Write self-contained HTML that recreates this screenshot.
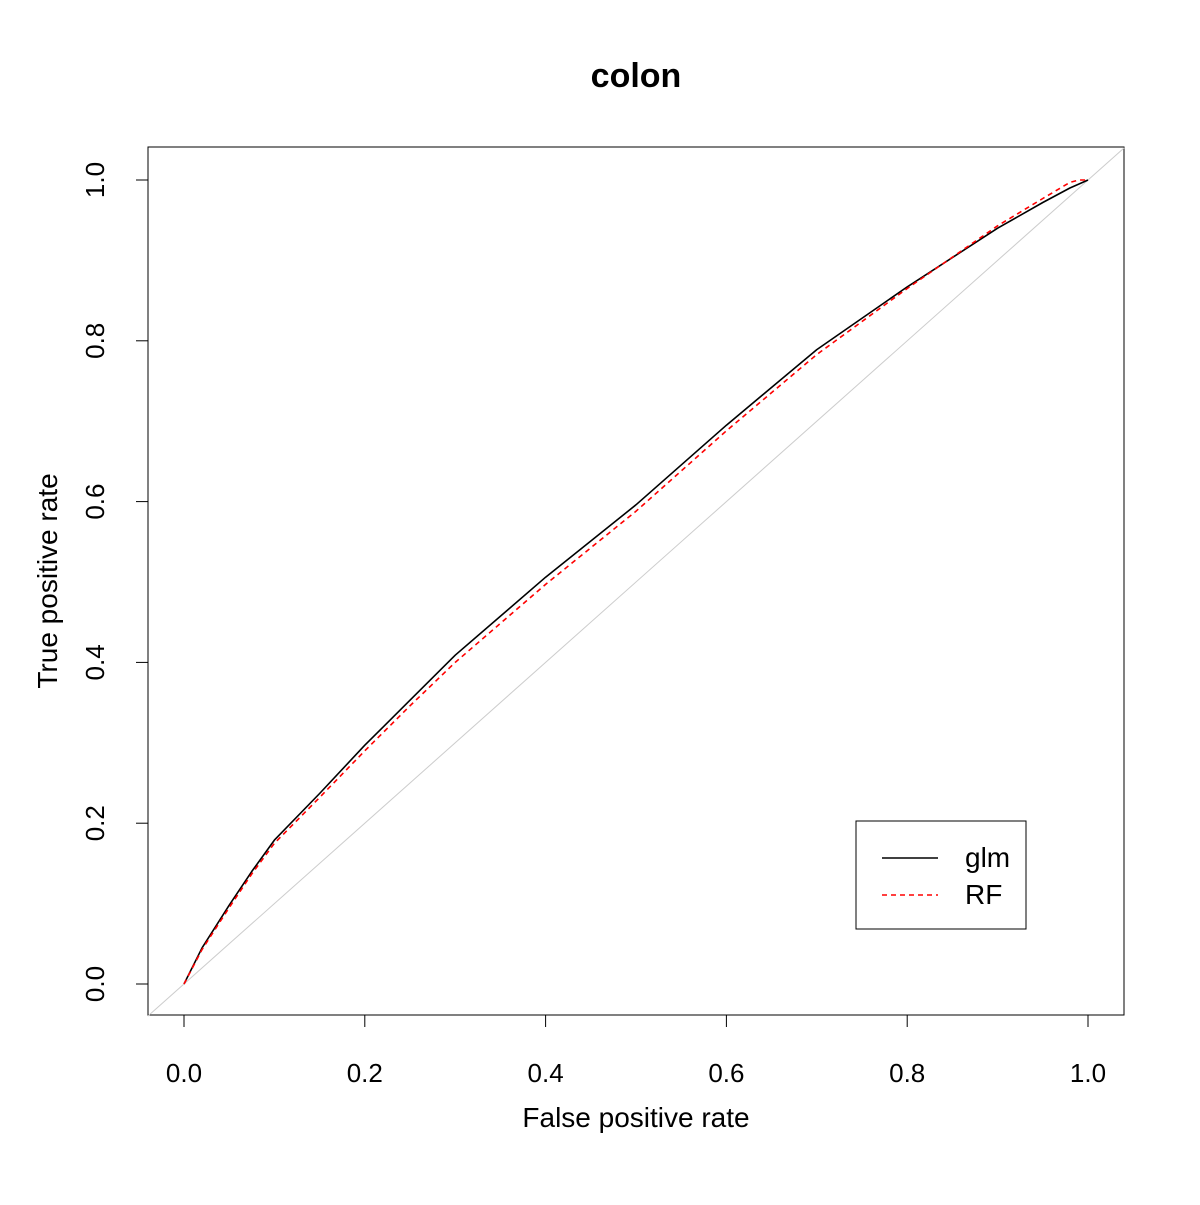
<!DOCTYPE html>
<html><head><meta charset="utf-8"><style>
body{margin:0;background:#fff}
svg text{font-family:"Liberation Sans",sans-serif}
</style></head><body>
<svg id="chart" width="1200" height="1200" viewBox="0 0 1200 1200" xmlns="http://www.w3.org/2000/svg">
<rect width="1200" height="1200" fill="#fff"/>
<text x="636" y="87" font-size="34" font-weight="bold" text-anchor="middle">colon</text>
<rect x="148" y="147" width="976" height="868" fill="none" stroke="#000" stroke-width="1"/>
<g id="axes"></g>
<g id="marks"></g>
<text x="636" y="1127" font-size="28" text-anchor="middle">False positive rate</text>
<text transform="translate(57,581) rotate(-90)" font-size="28" text-anchor="middle">True positive rate</text>
<g>
<rect x="856" y="821" width="170" height="108" fill="#fff" stroke="#000"/>
<line x1="882" y1="858" x2="938" y2="858" stroke="#000" stroke-width="1.5"/>
<text x="965" y="867" font-size="28">glm</text>
<line x1="882" y1="895" x2="938" y2="895" stroke="#f00" stroke-width="1.5" stroke-dasharray="5,4"/>
<text x="965" y="904" font-size="28">RF</text>
</g>
</svg>
<script>
const ticks=[0,0.2,0.4,0.6,0.8,1.0];
const tickLabels=["0.0","0.2","0.4","0.6","0.8","1.0"];
const fpr=[0,0.02,0.05,0.075,0.1,0.15,0.2,0.25,0.3,0.4,0.5,0.6,0.7,0.8,0.9,0.95,0.98,0.99,1.0];
const glmTpr=[0,0.045,0.098,0.14,0.179,0.237,0.297,0.353,0.409,0.506,0.596,0.695,0.789,0.867,0.94,0.972,0.99,0.995,1.0];
const rfTpr=[0,0.043,0.095,0.137,0.175,0.232,0.29,0.346,0.40,0.497,0.588,0.688,0.783,0.865,0.943,0.977,0.997,1.0,1.0];
const NS="http://www.w3.org/2000/svg";
const sx=v=>184+v*904, sy=v=>984-v*804;
const ax=document.getElementById('axes'), mk=document.getElementById('marks');
function el(t,a,p){const e=document.createElementNS(NS,t);for(const k in a)e.setAttribute(k,a[k]);p.appendChild(e);return e;}
ticks.forEach((t,i)=>{
 let l=el('line',{x1:sx(t),x2:sx(t),y1:1015,y2:1027,stroke:'#000'},ax);
 
 
 let tx=el('text',{x:sx(t),y:1082,'font-size':26,'text-anchor':'middle'},ax);tx.textContent=tickLabels[i];
 
 
 let l2=el('line',{x1:136,x2:148,y1:sy(t),y2:sy(t),stroke:'#000'},ax);
 
 
 let ty=el('text',{transform:`translate(104,${sy(t)}) rotate(-90)`,'font-size':26,'text-anchor':'middle'},ax);ty.textContent=tickLabels[i];
 
 
});
const diag=el('line',{x1:sx(-0.04),y1:sy(-0.04),x2:sx(1.04),y2:sy(1.04),stroke:'#ccc'},mk);


function path(ys,color,dash,name){
 const d=fpr.map((x,i)=>(i?'L':'M')+sx(x).toFixed(1)+','+sy(ys[i]).toFixed(1)).join(' ');
 const p=el('path',{d,fill:'none',stroke:color,'stroke-width':1.6,'stroke-linejoin':'round'},mk);
 if(dash)p.setAttribute('stroke-dasharray',dash);
 
 
}
path(glmTpr,'#000',null,'glm-roc-line');
path(rfTpr,'#f00','5,4','rf-roc-line');
</script>
</body></html>
